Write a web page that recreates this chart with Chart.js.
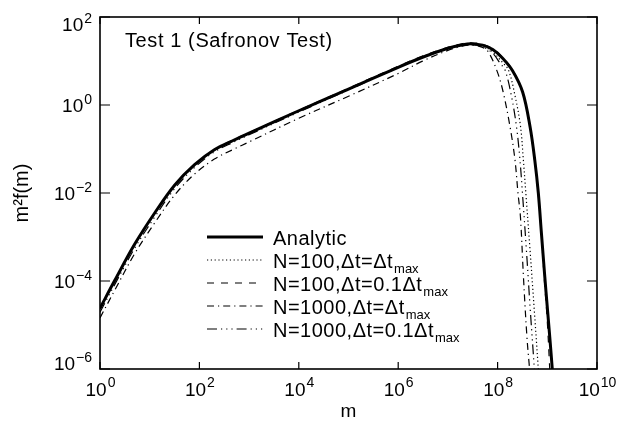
<!DOCTYPE html>
<html>
<head>
<meta charset="utf-8">
<script src="https://cdn.jsdelivr.net/npm/chart.js@4.4.0/dist/chart.umd.min.js"></script>
<style>
html, body { margin: 0; padding: 0; background: #fff; }
</style>
</head>
<body>
<canvas id="myChart" width="634" height="423"></canvas>
<script>
// values (m, m^2 f(m))
const mAnalytic = [1, 2, 5, 13, 32, 80, 200, 500, 1e3, 1e4, 1e5, 1e6, 3e6, 1e7, 2e7, 3e7, 5e7, 8e7, 1.25e8, 2e8, 3.2e8, 4.5e8, 5.6e8, 6.6e8, 7.6e8, 8.9e8, 1e9, 1.12e9, 1.26e9];
const fAnalytic = [2.4e-5, 1.05e-4, 6.9e-4, 3.7e-3, 1.52e-2, 4.4e-2, 9.6e-2, 0.16, 0.23, 0.74, 2.3, 7.2, 12, 19.5, 23.4, 24.5, 22.9, 18.2, 11.7, 6.0, 1.95, 0.32, 0.056, 0.01, 1.26e-3, 1.26e-4, 2.5e-5, 5.4e-6, 1e-6];

const mN100 = [1, 2, 5, 13, 32, 80, 200, 500, 1e3, 1e4, 1e5, 1e6, 3e6, 1e7, 2e7, 3e7, 5e7, 8e7, 1.25e8, 1.65e8, 2.25e8, 2.9e8, 3.3e8, 3.7e8, 4.5e8, 5.5e8, 6.6e8];
const fN100 = [2.3e-5, 1.0e-4, 6.6e-4, 3.5e-3, 1.45e-2, 4.2e-2, 9.3e-2, 0.155, 0.22, 0.73, 2.3, 7.3, 12.5, 20, 24, 25, 22, 16, 9.3, 6.3, 1.6, 0.32, 0.056, 0.01, 5e-4, 2e-5, 1e-6];

const mN100small = [1, 2, 5, 13, 32, 80, 200, 500, 1e3, 1e4, 1e5, 1e6, 3e6, 1e7, 2e7, 3e7, 5e7, 8e7, 1.25e8, 2e8, 3.2e8, 4.5e8, 5.6e8, 6.6e8, 7.6e8, 8.7e8, 1e9, 1.12e9];
const fN100small = [2.35e-5, 1.03e-4, 6.8e-4, 3.6e-3, 1.5e-2, 4.35e-2, 9.6e-2, 0.165, 0.235, 0.76, 2.4, 7.6, 12.8, 20.5, 25, 26, 24, 19, 12.2, 6.2, 1.9, 0.3, 0.05, 0.009, 1.1e-3, 1.1e-4, 1.2e-5, 1e-6];

const mN1000 = [1, 2, 5, 13, 32, 80, 200, 500, 1e3, 1e4, 1e5, 1e6, 3e6, 1e7, 2e7, 3.2e7, 5e7, 6.5e7, 9.8e7, 1.29e8, 1.78e8, 2.24e8, 2.57e8, 2.88e8, 3.31e8, 3.89e8, 4.4e8];
const fN1000 = [1.45e-5, 6.3e-5, 4.2e-4, 2.2e-3, 9.1e-3, 2.7e-2, 5.9e-2, 0.1, 0.145, 0.5, 1.58, 5.2, 9.8, 17.4, 21.9, 22.9, 20.4, 16.2, 5.8, 2.0, 0.32, 0.056, 0.01, 2.9e-3, 1.26e-4, 5.4e-6, 1e-6];

const mN1000small = [1, 2, 5, 13, 32, 80, 200, 500, 1e3, 1e4, 1e5, 1e6, 3e6, 1e7, 2e7, 3e7, 5e7, 8e7, 1.12e8, 1.41e8, 1.9e8, 2.4e8, 2.82e8, 3.16e8, 3.8e8, 4.57e8, 5.5e8];
const fN1000small = [1.95e-5, 8.5e-5, 5.6e-4, 3.0e-3, 1.27e-2, 3.8e-2, 8.6e-2, 0.145, 0.21, 0.69, 2.2, 7.1, 12, 19.5, 23.5, 24, 21, 15, 8.9, 6.3, 1.6, 0.32, 0.056, 0.01, 5e-4, 2e-5, 1e-6];

const seriesLabels = ['Analytic', 'N=100,Δt=Δt_max', 'N=100,Δt=0.1Δt_max', 'N=1000,Δt=Δt_max', 'N=1000,Δt=0.1Δt_max'];

const xTicks = [1, 1e2, 1e4, 1e6, 1e8, 1e10];
const xTickExp = ['0', '2', '4', '6', '8', '10'];
const yTicks = [1e-6, 1e-4, 1e-2, 1, 1e2];
const yTickExp = ['−6', '−4', '−2', '0', '2'];

const FONT = "'Liberation Sans', Arial, sans-serif";

function pts(ms, fs) {
    return ms.map((m, i) => ({ x: m, y: fs[i] }));
}

// frame, inward ticks, 10^n labels, title and legend
const decorations = {
    id: 'decorations',
    afterDraw(chart) {
        const c = chart.ctx;
        const a = chart.chartArea;
        const sx = chart.scales.x, sy = chart.scales.y;
        c.save();
        c.strokeStyle = '#000';
        c.fillStyle = '#000';
        c.lineWidth = 1.6;
        c.strokeRect(a.left, a.top, a.right - a.left, a.bottom - a.top);

        c.lineWidth = 1.2;
        c.beginPath();
        sx.ticks.forEach(t => {
            const px = sx.getPixelForValue(t.value);
            c.moveTo(px, a.bottom); c.lineTo(px, a.bottom - 7);
            c.moveTo(px, a.top); c.lineTo(px, a.top + 7);
        });
        sy.ticks.forEach(t => {
            const py = sy.getPixelForValue(t.value);
            c.moveTo(a.left, py); c.lineTo(a.left + 10, py);
            c.moveTo(a.right, py); c.lineTo(a.right - 10, py);
        });
        c.stroke();

        const baseFont = '19px ' + FONT, expFont = '14px ' + FONT;
        c.textBaseline = 'alphabetic';
        c.textAlign = 'left';
        // x labels
        sx.ticks.forEach((t, i) => {
            const px = sx.getPixelForValue(t.value);
            c.font = baseFont; const w1 = c.measureText('10').width;
            c.font = expFont; const w2 = c.measureText(xTickExp[i]).width;
            const x0 = px - (w1 + w2) / 2;
            c.font = baseFont; c.fillText('10', x0, a.bottom + 27);
            c.font = expFont; c.fillText(xTickExp[i], x0 + w1 + 1, a.bottom + 18);
        });
        // y labels
        sy.ticks.forEach((t, i) => {
            let py = sy.getPixelForValue(t.value);
            py = Math.min(Math.max(py, a.top + 7), a.bottom - 6);
            c.font = expFont; const w2 = c.measureText(yTickExp[i]).width;
            c.font = baseFont; const w1 = c.measureText('10').width;
            const x0 = a.left - 8 - w2 - w1 - 1;
            c.fillText('10', x0, py + 7);
            c.font = expFont; c.fillText(yTickExp[i], x0 + w1 + 1, py - 1);
        });

        c.font = '20px ' + FONT;
        c.letterSpacing = '0.6px';
        c.fillText('Test 1 (Safronov Test)', a.left + 25, a.top + 30);

        // legend
        const lx0 = 207, lx1 = 263, tx = 273, top = 237, gap = 23;
        chart.data.datasets.forEach((ds, i) => {
            const y = top + i * gap;
            c.lineWidth = ds.borderWidth;
            c.setLineDash(ds.borderDash || []);
            c.beginPath(); c.moveTo(lx0, y); c.lineTo(lx1, y); c.stroke();
            c.setLineDash([]);
            const parts = seriesLabels[i].split('_');
            c.font = '20px ' + FONT;
            c.letterSpacing = '0.5px';
            c.fillText(parts[0], tx, y + 8);
            if (parts[1]) {
                const w = c.measureText(parts[0]).width;
                c.font = '13px ' + FONT;
                c.letterSpacing = '0px';
                c.fillText(parts[1], tx + w + 1, y + 13);
            }
        });
        c.restore();
    }
};

const ctx = document.getElementById('myChart').getContext('2d');

const chart = new Chart(ctx, {
    type: 'line',
    data: {
        datasets: [
            { label: seriesLabels[0], data: pts(mAnalytic, fAnalytic), borderWidth: 3, borderDash: [] },
            { label: seriesLabels[1], data: pts(mN100, fN100), borderWidth: 1.2, borderDash: [1.2, 2.6] },
            { label: seriesLabels[2], data: pts(mN100small, fN100small), borderWidth: 1.2, borderDash: [7, 7] },
            { label: seriesLabels[3], data: pts(mN1000, fN1000), borderWidth: 1.2, borderDash: [7, 4, 1.2, 4] },
            { label: seriesLabels[4], data: pts(mN1000small, fN1000small), borderWidth: 1.2, borderDash: [10, 4, 1.2, 4, 1.2, 4, 1.2, 4] }
        ].map(d => Object.assign(d, {
            borderColor: '#000',
            backgroundColor: 'transparent',
            pointRadius: 0,
            fill: false,
            tension: 0.35
        }))
    },
    options: {
        responsive: false,
        animation: false,
        layout: { padding: { top: 17, right: 37, left: 0, bottom: 0 } },
        plugins: { legend: { display: false }, tooltip: { enabled: false } },
        scales: {
            x: {
                type: 'logarithmic', min: 1, max: 1e10,
                ticks: { display: false }, grid: { display: false }, border: { display: false },
                title: { display: true, text: 'm', color: '#000', font: { family: FONT, size: 19 }, padding: { top: 0, bottom: 0 } },
                afterBuildTicks: s => { s.ticks = xTicks.map(v => ({ value: v })); },
                afterFit: s => { s.height = 54; }
            },
            y: {
                type: 'logarithmic', min: 1e-6, max: 1e2,
                ticks: { display: false }, grid: { display: false }, border: { display: false },
                title: { display: true, text: 'm²f(m)', color: '#000', font: { family: FONT, size: 20 }, padding: { top: 10, bottom: 0 } },
                afterBuildTicks: s => { s.ticks = yTicks.map(v => ({ value: v })); },
                afterFit: s => { s.width = 100; }
            }
        }
    },
    plugins: [decorations]
});
</script>
</body>
</html>
